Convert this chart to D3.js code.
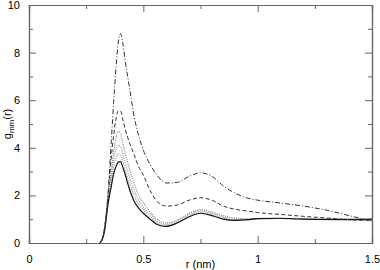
<!DOCTYPE html>
<html>
<head>
<meta charset="utf-8">
<script src="https://cdn.jsdelivr.net/npm/d3@7"></script>
<style>
  body { margin: 0; background: #fff; }
  svg { display: block; font-family: "Liberation Sans", Arial, sans-serif; }
</style>
</head>
<body>
<svg id="chart" width="380" height="270"></svg>
<script>
// r grid (nm) shared by all curves
var rValues = [0.31, 0.32, 0.33, 0.345, 0.36, 0.37, 0.38, 0.39, 0.40, 0.41, 0.42, 0.44, 0.46,
  0.48, 0.50, 0.53, 0.56, 0.60, 0.65, 0.70, 0.75, 0.80, 0.85, 0.90, 0.95, 1.0, 1.1, 1.2, 1.3, 1.4, 1.5];

var gDashDot = [0, 0.15, 0.6, 2.0, 4.3, 5.9, 7.3, 8.4, 8.8, 8.4, 7.7, 6.5, 5.3,
  4.5, 3.9, 3.3, 2.85, 2.52, 2.55, 2.8, 2.95, 2.8, 2.4, 2.1, 1.9, 1.8, 1.68, 1.55, 1.38, 1.15, 0.92];
var gDashed = [0, 0.15, 0.6, 1.9, 3.6, 4.5, 5.2, 5.55, 5.55, 5.2, 4.8, 4.2, 3.7,
  3.2, 2.85, 2.2, 1.75, 1.55, 1.6, 1.8, 1.9, 1.8, 1.55, 1.42, 1.35, 1.28, 1.2, 1.12, 1.05, 0.98, 0.95];
var gDotted1 = [0, 0.15, 0.55, 1.8, 3.0, 3.8, 4.4, 4.68, 4.6, 4.2, 3.8, 3.1, 2.5,
  2.0, 1.7, 1.3, 1.0, 0.85, 0.98, 1.25, 1.4, 1.3, 1.15, 1.05, 1.02, 1.03, 1.03, 1.0, 0.98, 0.96, 0.95];
var gDotted2 = [0, 0.15, 0.5, 1.7, 2.8, 3.5, 3.9, 4.1, 4.05, 3.75, 3.4, 2.75, 2.2,
  1.8, 1.5, 1.2, 0.92, 0.8, 0.92, 1.2, 1.35, 1.25, 1.1, 1.0, 1.0, 1.02, 1.02, 1.0, 0.98, 0.97, 0.96];
var gDotted3 = [0, 0.15, 0.5, 1.65, 2.6, 3.2, 3.55, 3.75, 3.7, 3.45, 3.1, 2.5, 2.0,
  1.6, 1.38, 1.1, 0.85, 0.75, 0.88, 1.15, 1.3, 1.2, 1.05, 0.97, 0.98, 1.02, 1.03, 1.0, 0.99, 0.98, 0.97];
var gSolid = [0, 0.15, 0.5, 1.6, 2.4, 2.9, 3.2, 3.4, 3.42, 3.2, 2.9, 2.25, 1.75,
  1.45, 1.25, 1.0, 0.78, 0.7, 0.85, 1.1, 1.25, 1.15, 1.0, 0.95, 0.97, 1.02, 1.04, 1.0, 0.99, 0.99, 1.0];

var xMajor = [0, 0.5, 1, 1.5];
var xMinor = [0.25, 0.75, 1.25];
var yMajor = [0, 2, 4, 6, 8, 10];
var yMinor = [1, 3, 5, 7, 9];

var series = [
  { values: gDotted3, stroke: '#999', width: 1.2, dash: '1,1.2' },
  { values: gDotted2, stroke: '#999', width: 1.2, dash: '1,1.2' },
  { values: gDotted1, stroke: '#888', width: 1.2, dash: '1,1.2' },
  { values: gSolid,   stroke: '#111', width: 1.2, dash: null },
  { values: gDashed,  stroke: '#333', width: 1, dash: '4,2.5' },
  { values: gDashDot, stroke: '#333', width: 1, dash: '5,2,1,2' }
];

(function () {
  'use strict';

  var left = 29, right = 372, top = 5, bottom = 243;
  var svg = d3.select('#chart');
  var frame = '#666';

  var x = d3.scaleLinear().domain([0, 1.5]).range([left, right]);
  var y = d3.scaleLinear().domain([0, 10]).range([bottom, top]);

  function styleAxis(g) {
    g.select('.domain').attr('stroke', frame).attr('stroke-width', 1.2);
    g.selectAll('.tick line').attr('stroke', frame);
    g.selectAll('.tick text').attr('fill', '#000').attr('font-size', 11)
      .attr('font-family', '"Liberation Sans", Arial, sans-serif');
  }

  // major + minor ticks on all four sides, pointing inward
  svg.append('g').attr('transform', 'translate(0,' + bottom + ')')
    .call(d3.axisBottom(x).tickValues(xMajor).tickSize(-7).tickPadding(12)
      .tickFormat(function (d) { return d === 0 ? '0' : String(d); }))
    .call(styleAxis);
  svg.append('g').attr('transform', 'translate(0,' + bottom + ')')
    .call(d3.axisBottom(x).tickValues(xMinor).tickSize(-4).tickFormat(''))
    .call(styleAxis);
  svg.append('g').attr('transform', 'translate(0,' + top + ')')
    .call(d3.axisTop(x).tickValues(xMajor).tickSize(-7).tickFormat(''))
    .call(styleAxis);
  svg.append('g').attr('transform', 'translate(0,' + top + ')')
    .call(d3.axisTop(x).tickValues(xMinor).tickSize(-4).tickFormat(''))
    .call(styleAxis);

  svg.append('g').attr('transform', 'translate(' + left + ',0)')
    .call(d3.axisLeft(y).tickValues(yMajor).tickSize(-7).tickPadding(9))
    .call(styleAxis);
  svg.append('g').attr('transform', 'translate(' + left + ',0)')
    .call(d3.axisLeft(y).tickValues(yMinor).tickSize(-4).tickFormat(''))
    .call(styleAxis);
  svg.append('g').attr('transform', 'translate(' + right + ',0)')
    .call(d3.axisRight(y).tickValues(yMajor).tickSize(-7).tickFormat(''))
    .call(styleAxis);
  svg.append('g').attr('transform', 'translate(' + right + ',0)')
    .call(d3.axisRight(y).tickValues(yMinor).tickSize(-4).tickFormat(''))
    .call(styleAxis);

  var line = d3.line()
    .x(function (d) { return x(d[0]); })
    .y(function (d) { return y(d[1]); })
    .curve(d3.curveMonotoneX);

  series.forEach(function (s) {
    var pts = rValues.map(function (r, i) { return [r, s.values[i]]; });
    svg.append('path')
      .attr('d', line(pts))
      .attr('fill', 'none')
      .attr('stroke', s.stroke)
      .attr('stroke-width', s.width)
      .attr('stroke-dasharray', s.dash);
  });

  // axis titles
  svg.append('text')
    .attr('x', (left + right) / 2).attr('y', 268)
    .attr('text-anchor', 'middle').attr('font-size', 11)
    .text('r (nm)');

  var yl = svg.append('text')
    .attr('transform', 'translate(11,' + ((top + bottom) / 2) + ') rotate(-90)')
    .attr('text-anchor', 'middle').attr('font-size', 11);
  yl.append('tspan').text('g');
  yl.append('tspan').attr('font-size', 8).attr('dy', 3).text('mm');
  yl.append('tspan').attr('dy', -3).text('(r)');
})();
</script>
</body>
</html>
